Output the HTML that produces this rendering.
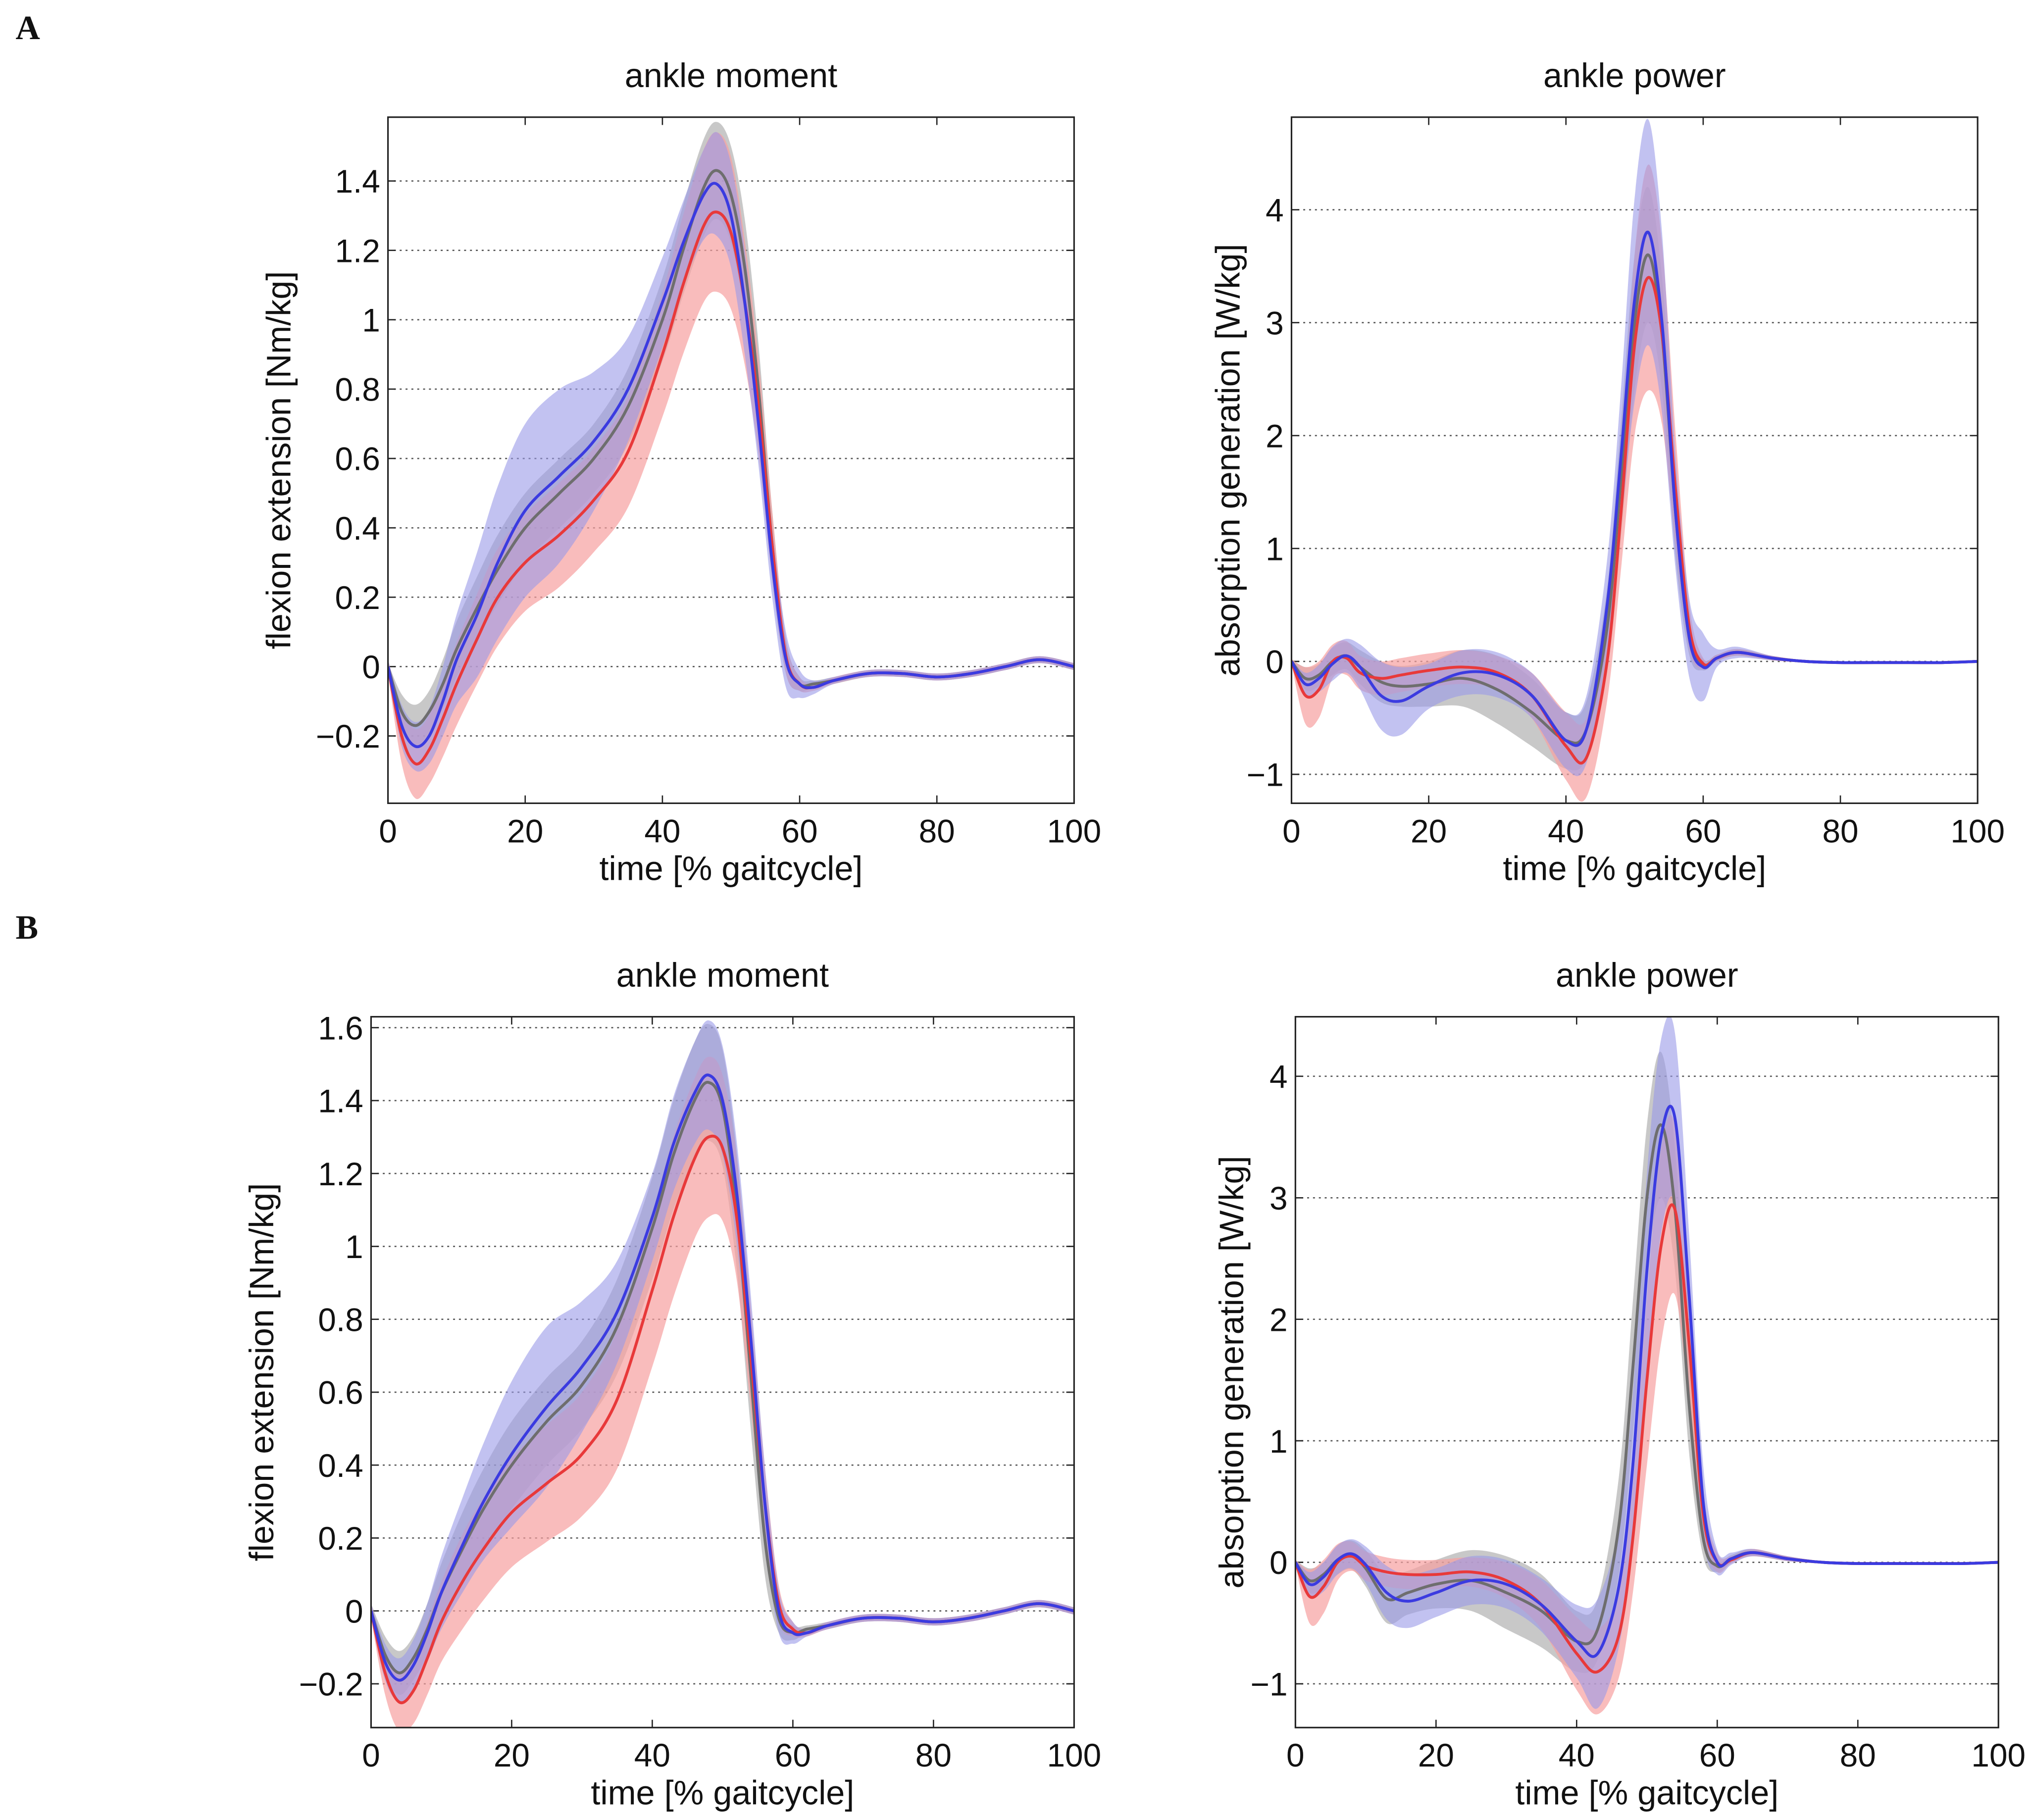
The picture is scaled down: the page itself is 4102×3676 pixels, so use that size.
<!DOCTYPE html>
<html><head><meta charset="utf-8"><style>
html,body{margin:0;padding:0;background:#fff;}
svg{display:block;}
text{font-family:"Liberation Sans",sans-serif;fill:#111;}
</style></head><body>
<svg id="fig" width="4102" height="3676" viewBox="0 0 1560 1398" xmlns="http://www.w3.org/2000/svg">
<rect width="1560" height="1398" fill="#fff"/>
<text x="12" y="30" style="font-family:'Liberation Serif',serif;font-weight:bold;font-size:26px">A</text>
<text x="12" y="721" style="font-family:'Liberation Serif',serif;font-weight:bold;font-size:26px">B</text>
</svg>
<script>
// shared x samples (% gait cycle)
const xs = [0,2,4,6,8,10,13,16,20,25,30,35,40,43,46,48,50,52,54,56,58,60,62,65,70,75,80,85,90,95,100];

// A - ankle moment
const aMomGray  = [0,-0.13,-0.17,-0.13,-0.05,0.05,0.17,0.28,0.40,0.50,0.60,0.75,1.00,1.20,1.38,1.43,1.36,1.15,0.80,0.35,0.03,-0.05,-0.05,-0.04,-0.02,-0.02,-0.03,-0.02,0.0,0.02,0];
const aMomGraySd= [0.01,0.05,0.06,0.06,0.07,0.08,0.09,0.10,0.10,0.10,0.10,0.11,0.12,0.13,0.14,0.14,0.14,0.14,0.13,0.10,0.05,0.02,0.01,0.01,0.01,0.01,0.01,0.01,0.01,0.01,0.01];
const aMomRed   = [0,-0.20,-0.28,-0.24,-0.15,-0.05,0.08,0.20,0.30,0.38,0.48,0.62,0.90,1.10,1.27,1.31,1.25,1.05,0.75,0.35,0.03,-0.05,-0.06,-0.04,-0.02,-0.02,-0.03,-0.02,0.0,0.02,0];
const aMomRedSd = [0.02,0.08,0.10,0.10,0.11,0.12,0.13,0.14,0.14,0.15,0.15,0.16,0.18,0.20,0.22,0.23,0.22,0.18,0.14,0.10,0.05,0.02,0.01,0.01,0.01,0.01,0.01,0.01,0.01,0.01,0.01];
const aMomBlue  = [0,-0.17,-0.23,-0.20,-0.10,0.02,0.15,0.30,0.45,0.55,0.65,0.80,1.05,1.22,1.36,1.39,1.30,1.05,0.70,0.30,0.02,-0.05,-0.06,-0.04,-0.02,-0.02,-0.03,-0.02,0.0,0.02,0];
const aMomBlueSd= [0.02,0.06,0.07,0.08,0.10,0.13,0.18,0.22,0.25,0.25,0.20,0.15,0.13,0.12,0.13,0.15,0.15,0.15,0.12,0.10,0.08,0.04,0.02,0.01,0.01,0.01,0.01,0.01,0.01,0.01,0.01];
// A - ankle power
const aPowGray  = [0,-0.15,-0.12,0.0,0.05,-0.05,-0.18,-0.22,-0.20,-0.15,-0.25,-0.45,-0.70,-0.60,0.30,1.60,3.00,3.60,2.90,1.30,0.20,-0.03,0.03,0.08,0.03,0.0,-0.01,-0.01,-0.01,-0.01,0];
const aPowGraySd= [0.02,0.10,0.10,0.12,0.12,0.15,0.18,0.18,0.20,0.25,0.30,0.30,0.25,0.25,0.35,0.50,0.60,0.60,0.50,0.40,0.15,0.05,0.03,0.03,0.02,0.01,0.01,0.01,0.01,0.01,0.01];
const aPowRed   = [0,-0.30,-0.25,0.0,0.03,-0.10,-0.15,-0.12,-0.08,-0.05,-0.10,-0.30,-0.75,-0.85,0.0,1.30,2.80,3.40,2.90,1.50,0.30,-0.02,0.03,0.08,0.03,0.0,-0.01,-0.01,-0.01,-0.01,0];
const aPowRedSd = [0.02,0.25,0.25,0.15,0.15,0.15,0.15,0.15,0.15,0.15,0.15,0.20,0.30,0.35,0.35,0.50,0.80,1.00,0.80,0.50,0.20,0.05,0.03,0.03,0.02,0.01,0.01,0.01,0.01,0.01,0.01];
const aPowBlue  = [0,-0.20,-0.15,-0.02,0.05,-0.05,-0.30,-0.35,-0.22,-0.10,-0.12,-0.30,-0.70,-0.60,0.50,1.80,3.20,3.80,3.00,1.30,0.20,-0.05,0.03,0.08,0.03,0.0,-0.01,-0.01,-0.01,-0.01,0];
const aPowBlueSd= [0.02,0.10,0.12,0.15,0.15,0.20,0.30,0.30,0.20,0.20,0.20,0.20,0.25,0.30,0.40,0.60,0.90,1.00,0.80,0.50,0.35,0.30,0.08,0.05,0.02,0.01,0.01,0.01,0.01,0.01,0.01];
// B - ankle moment
const bMomGray  = [0,-0.12,-0.17,-0.13,-0.05,0.05,0.17,0.28,0.40,0.52,0.62,0.78,1.05,1.25,1.40,1.45,1.38,1.10,0.65,0.20,-0.02,-0.06,-0.05,-0.04,-0.02,-0.02,-0.03,-0.02,0.0,0.02,0];
const bMomGraySd= [0.02,0.05,0.06,0.06,0.07,0.08,0.10,0.11,0.12,0.12,0.12,0.13,0.14,0.15,0.16,0.16,0.16,0.16,0.15,0.10,0.04,0.02,0.01,0.01,0.01,0.01,0.01,0.01,0.01,0.01,0.01];
const bMomRed   = [0,-0.17,-0.25,-0.22,-0.13,-0.03,0.08,0.17,0.27,0.35,0.43,0.58,0.88,1.08,1.24,1.30,1.27,1.08,0.70,0.30,0.02,-0.05,-0.06,-0.04,-0.02,-0.02,-0.03,-0.02,0.0,0.02,0];
const bMomRedSd = [0.02,0.06,0.08,0.09,0.10,0.11,0.13,0.14,0.15,0.16,0.17,0.19,0.21,0.22,0.22,0.22,0.20,0.17,0.14,0.10,0.05,0.02,0.01,0.01,0.01,0.01,0.01,0.01,0.01,0.01,0.01];
const bMomBlue  = [0,-0.14,-0.19,-0.15,-0.06,0.05,0.18,0.30,0.43,0.56,0.67,0.82,1.08,1.28,1.42,1.47,1.40,1.15,0.75,0.30,0.0,-0.06,-0.06,-0.04,-0.02,-0.02,-0.03,-0.02,0.0,0.02,0];
const bMomBlueSd= [0.02,0.05,0.06,0.07,0.08,0.10,0.13,0.16,0.20,0.22,0.18,0.14,0.12,0.13,0.14,0.15,0.15,0.14,0.12,0.10,0.06,0.03,0.01,0.01,0.01,0.01,0.01,0.01,0.01,0.01,0.01];
// B - ankle power
const bPowGray  = [0,-0.15,-0.10,0.02,0.06,-0.05,-0.30,-0.25,-0.18,-0.15,-0.25,-0.40,-0.65,-0.55,0.30,1.60,3.00,3.60,2.90,1.30,0.20,-0.03,0.03,0.08,0.03,0.0,-0.01,-0.01,-0.01,-0.01,0];
const bPowGraySd= [0.02,0.10,0.10,0.12,0.12,0.15,0.20,0.18,0.20,0.25,0.30,0.30,0.25,0.25,0.40,0.55,0.60,0.60,0.50,0.40,0.15,0.05,0.03,0.03,0.02,0.01,0.01,0.01,0.01,0.01,0.01];
const bPowRed   = [0,-0.28,-0.20,0.0,0.05,-0.03,-0.08,-0.10,-0.10,-0.08,-0.15,-0.35,-0.75,-0.90,-0.60,0.20,1.50,2.60,2.90,1.80,0.40,0.0,0.02,0.08,0.03,0.0,-0.01,-0.01,-0.01,-0.01,0];
const bPowRedSd = [0.02,0.22,0.22,0.15,0.12,0.12,0.12,0.12,0.12,0.12,0.15,0.20,0.30,0.35,0.35,0.45,0.70,0.80,0.70,0.50,0.20,0.08,0.03,0.03,0.02,0.01,0.01,0.01,0.01,0.01,0.01];
const bPowBlue  = [0,-0.18,-0.12,0.02,0.07,-0.02,-0.25,-0.32,-0.25,-0.15,-0.18,-0.35,-0.65,-0.75,-0.20,0.80,2.40,3.50,3.65,2.20,0.50,0.0,0.03,0.08,0.03,0.0,-0.01,-0.01,-0.01,-0.01,0];
const bPowBlueSd= [0.02,0.10,0.12,0.12,0.12,0.15,0.22,0.22,0.20,0.20,0.20,0.22,0.30,0.45,0.50,0.60,0.80,0.80,0.70,0.50,0.30,0.10,0.05,0.03,0.02,0.01,0.01,0.01,0.01,0.01,0.01];

const xTicks = [0,20,40,60,80,100];
const momTicksA = [-0.2,0,0.2,0.4,0.6,0.8,1,1.2,1.4];
const momTicksB = [-0.2,0,0.2,0.4,0.6,0.8,1,1.2,1.4,1.6];
const powTicks = [-1,0,1,2,3,4];

const NS = "http://www.w3.org/2000/svg";
const svg = document.getElementById('fig');
function mk(tag, attrs, parent){ const e=document.createElementNS(NS,tag); for(const k in attrs) e.setAttribute(k,attrs[k]); (parent||svg).appendChild(e); return e; }
function fmt(v){ return (v<0?'\u2212':'')+String(Math.abs(Math.round(v*10)/10)); }
function smooth(pts, start){
  let d = start ? 'M'+pts[0][0]+','+pts[0][1] : 'L'+pts[0][0]+','+pts[0][1];
  for(let i=0;i<pts.length-1;i++){
    const p0=pts[Math.max(i-1,0)],p1=pts[i],p2=pts[i+1],p3=pts[Math.min(i+2,pts.length-1)];
    const c1=[p1[0]+(p2[0]-p0[0])/6,p1[1]+(p2[1]-p0[1])/6];
    const c2=[p2[0]-(p3[0]-p1[0])/6,p2[1]-(p3[1]-p1[1])/6];
    d+='C'+c1[0].toFixed(2)+','+c1[1].toFixed(2)+' '+c2[0].toFixed(2)+','+c2[1].toFixed(2)+' '+p2[0].toFixed(2)+','+p2[1].toFixed(2);
  }
  return d;
}
const panels = [
  {id:'a-moment',x0:298,x1:825,y0:90,y1:617,ymin:-0.394,ymax:1.584,ticks:momTicksA,title:'ankle moment',ylabel:'flexion  extension [Nm/kg]',series:[[aMomGray,aMomGraySd],[aMomRed,aMomRedSd],[aMomBlue,aMomBlueSd]]},
  {id:'a-power',x0:992,x1:1519,y0:90,y1:617,ymin:-1.256,ymax:4.82,ticks:powTicks,title:'ankle power',ylabel:'absorption  generation [W/kg]',series:[[aPowGray,aPowGraySd],[aPowRed,aPowRedSd],[aPowBlue,aPowBlueSd]]},
  {id:'b-moment',x0:285,x1:825,y0:781,y1:1327,ymin:-0.32,ymax:1.63,ticks:momTicksB,title:'ankle moment',ylabel:'flexion  extension [Nm/kg]',series:[[bMomGray,bMomGraySd],[bMomRed,bMomRedSd],[bMomBlue,bMomBlueSd]]},
  {id:'b-power',x0:995,x1:1535,y0:781,y1:1327,ymin:-1.36,ymax:4.49,ticks:powTicks,title:'ankle power',ylabel:'absorption  generation [W/kg]',series:[[bPowGray,bPowGraySd],[bPowRed,bPowRedSd],[bPowBlue,bPowBlueSd]]}
];
const names=['gray','red','blue'];
const fills=['#9a9a9a','#f7a0a0','#9a9ae8'];
const fop=[0.55,0.7,0.6];
const strokes=['#6e6e6e','#e8393a','#3b3be0'];
panels.forEach(p=>{
  const g=mk('g',{});
  
  
  const X=v=>p.x0+(v/100)*(p.x1-p.x0);
  const Y=v=>p.y1-(v-p.ymin)/(p.ymax-p.ymin)*(p.y1-p.y0);
  const clipId='clip-'+p.id;
  const cp=mk('clipPath',{id:clipId},g); mk('rect',{x:p.x0,y:p.y0,width:p.x1-p.x0,height:p.y1-p.y0},cp);
  p.ticks.forEach(t=>{
    const l=mk('line',{x1:p.x0,x2:p.x1,y1:Y(t),y2:Y(t),stroke:'#555','stroke-width':1,'stroke-dasharray':'1.5,3'},g);
    
    
    mk('line',{x1:p.x0,x2:p.x0+6,y1:Y(t),y2:Y(t),stroke:'#222'},g);
    mk('line',{x1:p.x1,x2:p.x1-6,y1:Y(t),y2:Y(t),stroke:'#222'},g);
    const tx=mk('text',{x:p.x0-6,y:Y(t)+9,'text-anchor':'end','font-size':25},g); tx.textContent=fmt(t);
    
    
  });
  xTicks.forEach(t=>{
    mk('line',{x1:X(t),x2:X(t),y1:p.y1,y2:p.y1-6,stroke:'#222'},g);
    mk('line',{x1:X(t),x2:X(t),y1:p.y0,y2:p.y0+6,stroke:'#222'},g);
    const tx=mk('text',{x:X(t),y:p.y1+30,'text-anchor':'middle','font-size':25},g); tx.textContent=t;
    
    
  });
  const cg=mk('g',{'clip-path':'url(#'+clipId+')'},g);
  p.series.forEach((s,i)=>{
    const m=s[0], sd=s[1];
    const up=xs.map((x,k)=>[X(x),Y(m[k]+sd[k])]);
    const lo=xs.map((x,k)=>[X(x),Y(m[k]-sd[k])]).reverse();
    const band=mk('path',{d:smooth(up,true)+smooth(lo,false)+'Z',fill:fills[i],'fill-opacity':fop[i],stroke:'none'},cg);
    
    
  });
  p.series.forEach((s,i)=>{
    const m=s[0];
    const pts=xs.map((x,k)=>[X(x),Y(m[k])]);
    const ln=mk('path',{d:smooth(pts,true),fill:'none',stroke:strokes[i],'stroke-width':2.2},cg);
    
    
  });
  mk('rect',{x:p.x0,y:p.y0,width:p.x1-p.x0,height:p.y1-p.y0,fill:'none',stroke:'#222','stroke-width':1.2},g);
  const cx=(p.x0+p.x1)/2;
  const ti=mk('text',{x:cx,y:p.y0-23,'text-anchor':'middle','font-size':26},g); ti.textContent=p.title;
  
  
  const xl=mk('text',{x:cx,y:p.y1+59,'text-anchor':'middle','font-size':26},g); xl.textContent='time [% gaitcycle]';
  
  
  const yx=p.x0-(p.id.indexOf('power')>=0?40:75), yy=(p.y0+p.y1)/2;
  const yl=mk('text',{x:yx,y:yy,'text-anchor':'middle','font-size':26,transform:'rotate(-90 '+yx+' '+yy+')','xml:space':'preserve'},g); yl.textContent=p.ylabel;
  
  
});
</script>
</body></html>
